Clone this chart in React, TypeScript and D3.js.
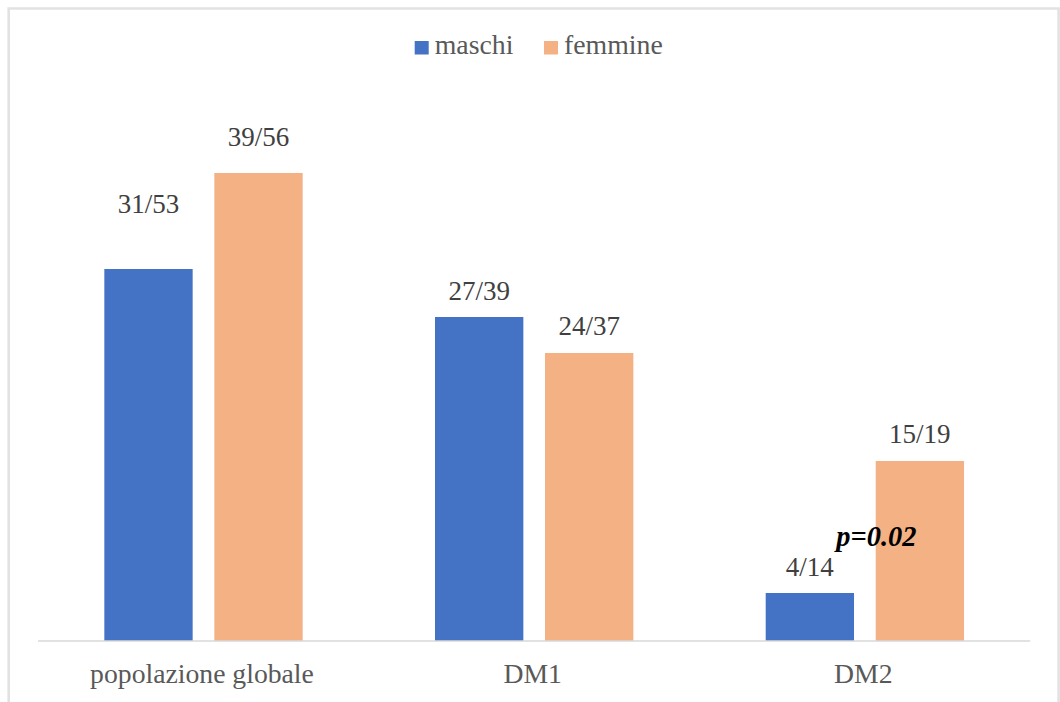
import React from "react";
import * as d3 from "d3";

// Pazienti per categoria: numeratore (barra) e denominatore (etichetta)
const categories = ["popolazione globale", "DM1", "DM2"];
const seriesNames = ["maschi", "femmine"];
const maschiCount = [31, 27, 4];
const maschiTotal = [53, 39, 14];
const femmineCount = [39, 24, 15];
const femmineTotal = [56, 37, 19];
const yMax = 45;
const pValueText = "p=0.02";

const COLORS: Record<string, string> = { maschi: "#4472C4", femmine: "#F4B183" };
const FONT = '"Liberation Serif", "Times New Roman", "DejaVu Serif", serif';

const W = 1060;
const H = 702;

export default function App() {
  const x0 = d3.scaleBand<string>().domain(categories).range([38.15, 1030.2]).padding(0);
  const x1 = d3
    .scaleBand<string>()
    .domain(seriesNames)
    .range([0, x0.bandwidth()])
    .paddingInner(0.197)
    .paddingOuter(0.6016);
  const y = d3.scaleLinear().domain([0, yMax]).range([641, 101]);

  const series = [
    { name: "maschi", counts: maschiCount, totals: maschiTotal, lift: [56, 17.5, 17.3] },
    { name: "femmine", counts: femmineCount, totals: femmineTotal, lift: [26.6, 17.6, 18.4] },
  ];

  const legendItems = [
    { name: "maschi", x: 414.7 },
    { name: "femmine", x: 544 },
  ];

  const txt = { fontFamily: FONT };

  return (
    <svg
      width={W}
      height={H}
      viewBox={`0 0 ${W} ${H}`}
      style={{ position: "absolute", left: 0, top: 0, background: "#fff", fontFamily: FONT }}
    >
      <rect x={0} y={0} width={W} height={H} fill="#fff" />
      {/* cornice del grafico */}
      <path
        d={`M8.7,${H + 5} L8.7,8.5 L1058.6,8.5 L1058.6,${H + 5}`}
        fill="none"
        stroke="#e2e2e2"
        strokeWidth={2.6}
      />

      {/* legenda */}
      {legendItems.map((it) => (
        <g key={it.name}>
          <rect x={it.x} y={41} width={14} height={13.5} fill={COLORS[it.name]} />
          <text x={it.x + 20} y={54.3} fontSize={27.8} fill="#595959" style={txt}>
            {it.name}
          </text>
        </g>
      ))}

      {/* barre */}
      {series.map((s) =>
        categories.map((c, i) => {
          const bx = (x0(c) ?? 0) + (x1(s.name) ?? 0);
          const v = s.counts[i];
          return (
            <g key={s.name + c}>
              <rect
                x={bx}
                y={y(v)}
                width={x1.bandwidth()}
                height={y(0) - y(v)}
                fill={COLORS[s.name]}
              />
              <text
                x={bx + x1.bandwidth() / 2}
                y={y(v) - s.lift[i]}
                fontSize={27}
                textAnchor="middle"
                fill="#404040"
                style={txt}
              >
                {`${v}/${s.totals[i]}`}
              </text>
            </g>
          );
        })
      )}

      {/* asse x */}
      <line x1={38} x2={1030.2} y1={641} y2={641} stroke="#d9d9d9" strokeWidth={1.5} />
      {categories.map((c) => (
        <text
          key={c}
          x={(x0(c) ?? 0) + x0.bandwidth() / 2 - 1.5}
          y={683.3}
          fontSize={27.7}
          textAnchor="middle"
          fill="#595959"
          style={txt}
        >
          {c}
        </text>
      ))}

      {/* significatività DM2 */}
      <text
        x={(x0("DM2") ?? 0) + x0.bandwidth() / 2 + 11.5}
        y={546}
        fontSize={28.4}
        fontWeight="bold"
        fontStyle="italic"
        textAnchor="middle"
        fill="#000"
        style={txt}
      >
        {pValueText}
      </text>
    </svg>
  );
}
